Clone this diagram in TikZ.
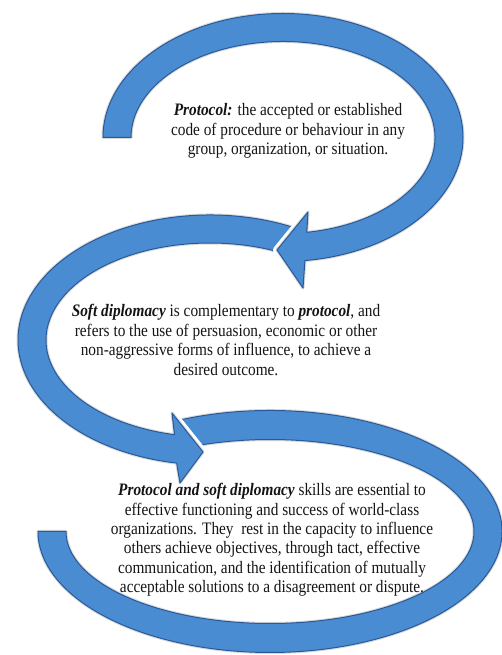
\documentclass[tikz,border=0pt]{standalone}
\usepackage{fontspec}
\setmainfont{Liberation Serif}[FakeStretch=0.875]
\definecolor{arrowblue}{RGB}{74,140,210}
\definecolor{arrowedge}{RGB}{40,90,155}
\definecolor{txt}{RGB}{20,20,20}
\tikzset{
  halo/.style={draw=white,line width=8pt,line join=round},
  shadowline/.style={draw=black!60,line width=3pt,opacity=0.25,line join=round},
  arrowbody/.style={fill=arrowblue,draw=arrowedge,line width=1pt,line join=round},
  txtnode/.style={align=center,text=txt,font=\fontsize{17.5}{19.4}\selectfont,inner sep=0pt},
  arrowonepath/.style={insert path={(103,517.5) arc[start angle=180,end angle=-83,x radius=180,y radius=124]
     -- (303,367) -- (277,405) -- (308,443)
     -- ({283+152*cos(-81)},{517.5+96*sin(-81)}) arc[start angle=-81,end angle=180,x radius=152,y radius=96] -- cycle}},
  arrowtwopath/.style={insert path={({210+192*cos(63.7)},{315+125*sin(63.7)}) arc[start angle=63.7,end angle=260,x radius=192,y radius=125]
     -- (180,172) -- (203,203) -- (172,242)
     -- ({210+164*cos(257.5)},{315+97*sin(257.5)}) arc[start angle=257.5,end angle=66.3,x radius=164,y radius=97] -- cycle}},
  arrowthreepath/.style={insert path={({270+232*cos(113.4)},{123.5+121*sin(113.4)}) arc[start angle=113.4,end angle=-180,x radius=232,y radius=121]
     -- (66,123.5) arc[start angle=-180,end angle=110.7,x radius=204,y radius=92] -- cycle}}
}
\begin{document}
\begin{tikzpicture}[x=1pt,y=1pt]
\useasboundingbox (0,0) rectangle (502,655);
% arrow 3 (bottom)
\path[halo,arrowthreepath];
\path[shadowline,arrowthreepath];
\path[arrowbody,arrowthreepath];
% arrow 2 (middle)
\path[halo,arrowtwopath];
\path[shadowline,arrowtwopath];
\path[arrowbody,arrowtwopath];
% arrow 1 (top)
\path[halo,arrowonepath];
\path[shadowline,arrowonepath];
\path[arrowbody,arrowonepath];
% texts
\node[txtnode] (t1) at (288,524) {\textbf{\textit{Protocol:}} the accepted or established\\code of procedure or behaviour in any\\group, organization, or situation.};
\node[txtnode] (t2) at (226,315) {\textbf{\textit{Soft diplomacy}} is complementary to \textbf{\textit{protocol}}, and\\refers to the use of persuasion, economic or other\\non-aggressive forms of influence, to achieve a\\desired outcome.};
\node[txtnode] (t3) at (272,115) {\textbf{\textit{Protocol and soft diplomacy}} skills are essential to\\effective functioning and success of world-class\\organizations. They\ \ rest in the capacity to influence\\others achieve objectives, through tact, effective\\communication, and the identification of mutually\\acceptable solutions to a disagreement or dispute.};
\end{tikzpicture}
\end{document}
